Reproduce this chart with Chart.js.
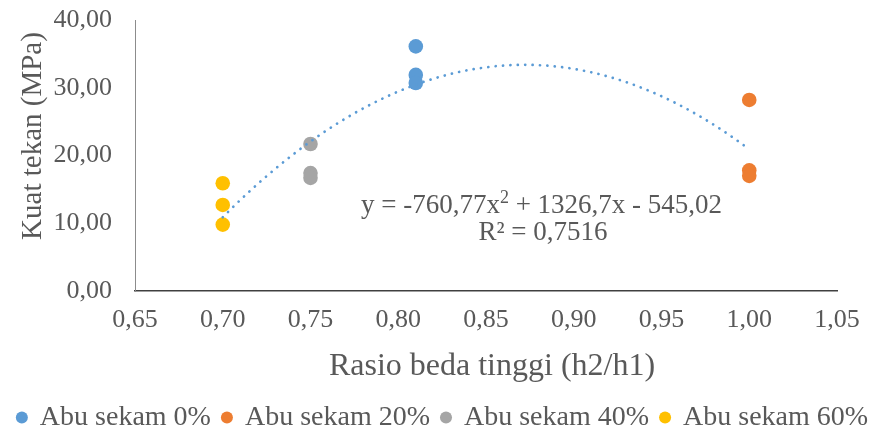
<!DOCTYPE html>
<html>
<head>
<meta charset="utf-8">
<script src="https://cdn.jsdelivr.net/npm/chart.js@4/dist/chart.umd.min.js"></script>
<style>
  html, body { margin: 0; padding: 0; background: #ffffff; }
  #wrap { width: 886px; height: 434px; }
</style>
</head>
<body>
<div id="wrap"><canvas id="chart" width="886" height="434"></canvas></div>
<script>
// Height ratio (h2/h1) and compressive strength (MPa) per rice-husk-ash content
const seriesNames = ['Abu sekam 0%', 'Abu sekam 20%', 'Abu sekam 40%', 'Abu sekam 60%'];
const seriesColors = ['#5B9BD5', '#ED7D31', '#A5A5A5', '#FFC000'];

const ratioAbu0  = [0.81, 0.81, 0.81];
const kuatAbu0   = [36.1, 31.9, 30.7];
const ratioAbu20 = [1.00, 1.00, 1.00];
const kuatAbu20  = [28.2, 17.8, 17.0];
const ratioAbu40 = [0.75, 0.75, 0.75];
const kuatAbu40  = [21.7, 17.4, 16.7];
const ratioAbu60 = [0.70, 0.70, 0.70];
const kuatAbu60  = [15.9, 12.7, 9.8];

// Polynomial trendline (order 2) as printed on the chart
const trendA = -760.77;
const trendB = 1326.7;
const trendC = -545.02;
const trendFrom = 0.70;
const trendTo = 1.00;
const trendSteps = 60;
const trendLabel = 'y = -760,77x';
const trendLabelTail = ' + 1326,7x - 545,02';
const r2Label = 'R\u00B2 = 0,7516';

// Axis ticks and titles
const xTickValues = [0.65, 0.70, 0.75, 0.80, 0.85, 0.90, 0.95, 1.00, 1.05];
const yTickValues = [0, 10, 20, 30, 40];
const xTitle = 'Rasio beda tinggi (h2/h1)';
const yTitle = 'Kuat tekan (MPa)';

const SERIF = '"Liberation Serif", "Times New Roman", serif';
const TEXT = '#595959';

function pairs(xs, ys) {
  return xs.map((x, i) => ({ x: x, y: ys[i] }));
}

const trendPoints = [];
for (let i = 0; i <= trendSteps; i++) {
  const x = trendFrom + (trendTo - trendFrom) * i / trendSteps;
  trendPoints.push({ x: x, y: trendA * x * x + trendB * x + trendC });
}

const seriesData = [
  pairs(ratioAbu0, kuatAbu0),
  pairs(ratioAbu20, kuatAbu20),
  pairs(ratioAbu40, kuatAbu40),
  pairs(ratioAbu60, kuatAbu60)
];

const datasets = seriesNames.map((name, i) => ({
  type: 'scatter',
  label: name,
  data: seriesData[i],
  backgroundColor: seriesColors[i],
  borderColor: seriesColors[i],
  borderWidth: 0,
  pointRadius: 7.3,
  pointHoverRadius: 7.3,
  order: 0
}));

datasets.push({
  type: 'line',
  label: 'trend',
  data: trendPoints,
  borderColor: '#5B9BD5',
  borderWidth: 2.7,
  borderDash: [0.1, 7.3],
  borderCapStyle: 'round',
  pointRadius: 0,
  fill: false,
  tension: 0,
  order: -1
});

function fmt(v) {
  return v.toFixed(2).replace('.', ',');
}

// Axis titles and the trendline equation
const annotations = {
  id: 'annotations',
  afterDraw(chart) {
    const ctx = chart.ctx;
    ctx.save();
    ctx.fillStyle = TEXT;

    // vertical axis title
    ctx.font = '29px ' + SERIF;
    ctx.textAlign = 'center';
    ctx.textBaseline = 'middle';
    ctx.translate(33, 136);
    ctx.rotate(-Math.PI / 2);
    ctx.fillText(yTitle, 0, 0);
    ctx.setTransform(1, 0, 0, 1, 0, 0);

    // horizontal axis title
    ctx.font = '32px ' + SERIF;
    ctx.textAlign = 'center';
    ctx.textBaseline = 'alphabetic';
    ctx.fillText(xTitle, 492, 375);

    // equation, with a raised exponent
    const big = '27px ' + SERIF;
    const small = '18px ' + SERIF;
    ctx.textAlign = 'left';
    ctx.font = big;
    const w1 = ctx.measureText(trendLabel).width;
    const w3 = ctx.measureText(trendLabelTail).width;
    ctx.font = small;
    const w2 = ctx.measureText('2').width;
    let x = 541.5 - (w1 + w2 + w3) / 2;
    ctx.font = big;
    ctx.fillText(trendLabel, x, 213);
    x += w1;
    ctx.font = small;
    ctx.fillText('2', x, 203);
    x += w2;
    ctx.font = big;
    ctx.fillText(trendLabelTail, x, 213);

    ctx.textAlign = 'center';
    ctx.fillText(r2Label, 543, 240);
    ctx.restore();
  }
};

new Chart(document.getElementById('chart'), {
  data: { datasets: datasets },
  options: {
    responsive: false,
    animation: false,
    devicePixelRatio: 1,
    events: [],
    layout: { padding: { top: 20, left: 0, right: 0, bottom: -7.5 } },
    plugins: {
      tooltip: { enabled: false },
      legend: {
        position: 'bottom',
        labels: {
          filter: item => item.text !== 'trend',
          usePointStyle: true,
          pointStyle: 'circle',
          boxWidth: 8,
          boxHeight: 8.5,
          padding: 12,
          color: TEXT,
          font: { family: SERIF, size: 28 }
        }
      }
    },
    scales: {
      x: {
        type: 'linear',
        position: 'bottom',
        min: 0.65,
        max: 1.05,
        afterBuildTicks: s => { s.ticks = xTickValues.map(v => ({ value: v })); },
        afterFit: s => { s.height = 100.5; },
        grid: { display: false, drawTicks: false },
        border: { display: true, color: '#404040', width: 1.5 },
        ticks: {
          padding: 14,
          color: TEXT,
          font: { family: SERIF, size: 26 },
          maxRotation: 0,
          autoSkip: false,
          callback: v => fmt(v)
        }
      },
      y: {
        type: 'linear',
        position: 'left',
        min: 0,
        max: 40,
        afterBuildTicks: s => { s.ticks = yTickValues.map(v => ({ value: v })); },
        afterFit: s => { s.width = 135; s.paddingTop = 0; s.paddingBottom = 0; },
        grid: { display: false, drawTicks: false },
        border: { display: true, color: '#8c8c8c', width: 1 },
        ticks: {
          padding: 23,
          color: TEXT,
          font: { family: SERIF, size: 26 },
          callback: v => fmt(v)
        }
      },
      yRight: {
        type: 'linear',
        position: 'right',
        afterFit: s => { s.width = 49; s.paddingTop = 0; s.paddingBottom = 0; },
        grid: { display: false, drawTicks: false },
        border: { display: false },
        ticks: { display: false }
      }
    }
  },
  plugins: [annotations]
});
</script>
</body>
</html>
